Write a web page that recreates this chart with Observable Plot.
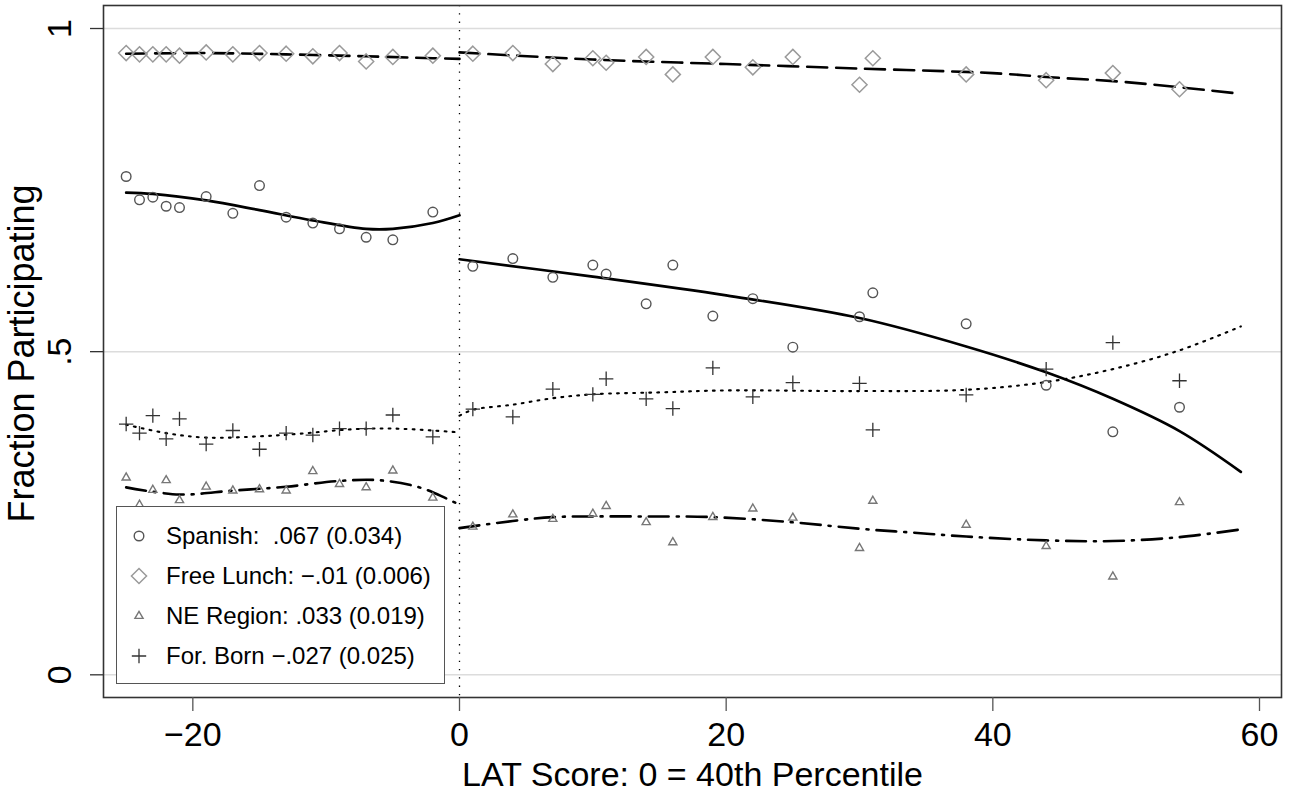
<!DOCTYPE html>
<html>
<head>
<meta charset="utf-8">
<script src="https://cdn.jsdelivr.net/npm/d3@7"></script>
<script src="https://cdn.jsdelivr.net/npm/@observablehq/plot@0.6"></script>
<style>
  html, body { margin: 0; padding: 0; background: #fff; }
  #wrap { position: relative; width: 1298px; height: 795px; font-family: "Liberation Sans", Arial, Helvetica, sans-serif; }
  #legend { position: absolute; left: 116px; top: 506px; width: 327px; height: 176px; background: #fff; border: 1.5px solid #555; box-sizing: content-box; }
  .row { position: absolute; left: 0; height: 30px; width: 100%; }
  .row svg { position: absolute; left: 12px; top: 5px; }
  .row span { position: absolute; left: 49px; top: 0; font-size: 24px; line-height: 30px; white-space: pre; color: #000; }
</style>
</head>
<body>
<div id="wrap"><div id="chart"></div><div id="legend"></div></div>
<script>
// ---- data ----
const lat = [-25,-24,-23,-22,-21,-19,-17,-15,-13,-11,-9,-7,-5,-2,
             1,4,7,10,11,14,16,19,22,25,30,31,38,44,49,54];
const spanish = [0.771,0.735,0.739,0.725,0.723,0.740,0.714,0.757,0.708,0.699,0.690,0.677,0.673,0.716,
                 0.632,0.644,0.615,0.634,0.620,0.574,0.634,0.555,0.582,0.507,0.554,0.591,0.543,0.448,0.376,0.414];
const freeLunch = [0.962,0.960,0.960,0.960,0.958,0.963,0.960,0.962,0.961,0.957,0.962,0.949,0.956,0.958,
                   0.961,0.962,0.945,0.954,0.947,0.956,0.929,0.956,0.940,0.956,0.913,0.954,0.929,0.920,0.931,0.906];
const neRegion = [0.305,0.263,0.286,0.301,0.270,0.291,0.285,0.287,0.285,0.315,0.295,0.290,0.316,0.274,
                  0.229,0.248,0.241,0.249,0.261,0.236,0.205,0.244,0.257,0.243,0.196,0.269,0.232,0.199,0.152,0.267];
const forBorn = [0.388,0.374,0.401,0.365,0.396,0.357,0.378,0.349,0.374,0.371,0.381,0.381,0.402,0.368,
                 0.411,0.399,0.442,0.434,0.458,0.427,0.412,0.475,0.430,0.452,0.451,0.379,0.433,0.473,0.514,0.455];

// fitted curves (left / right of cutoff)
const spanFitLx = [-25,-23,-19,-15,-11,-7,-5,-2,0];
const spanFitLy = [0.746,0.744,0.734,0.719,0.703,0.690,0.690,0.699,0.711];
const spanFitRx = [0,10,20,30,38,44,49,54,58.6];
const spanFitRy = [0.643,0.616,0.587,0.552,0.508,0.468,0.427,0.377,0.314];

const lunchFitLx = [-25,-19,-13,-7,-2,0];
const lunchFitLy = [0.961,0.962,0.960,0.957,0.954,0.953];
const lunchFitRx = [0,10,20,30,40,44,50,58.6];
const lunchFitRy = [0.963,0.952,0.945,0.938,0.931,0.925,0.917,0.899];

const neFitLx = [-25,-21,-17,-13,-9,-6,-3,-1,0];
const neFitLy = [0.290,0.279,0.285,0.291,0.300,0.301,0.290,0.273,0.263];
const neFitRx = [0,4,7,10,14,19,25,30,34,38,44,49,54,58.6];
const neFitRy = [0.227,0.238,0.244,0.245,0.245,0.244,0.236,0.226,0.220,0.214,0.208,0.207,0.213,0.225];

const bornFitLx = [-25,-22,-19,-15,-12,-8,-5,-2,0];
const bornFitLy = [0.387,0.374,0.367,0.369,0.373,0.380,0.381,0.378,0.375];
const bornFitRx = [0,1,4,7,10,15,20,30,38,44,49,54,58.6];
const bornFitRy = [0.401,0.410,0.418,0.428,0.434,0.437,0.440,0.439,0.441,0.453,0.473,0.502,0.539];

const xTicks = [-20,0,20,40,60];
const xTickLabels = ["\u221220","0","20","40","60"];
const yTicks = [0,0.5,1];
const yTickLabels = ["0",".5","1"];
const xTitle = "LAT Score: 0 = 40th Percentile";
const yTitle = "Fraction Participating";
const legendLabels = ["Spanish:  .067 (0.034)", "Free Lunch: \u2212.01 (0.006)", "NE Region: .033 (0.019)", "For. Born \u2212.027 (0.025)"];

// ---- build tables ----
const pts = (ys) => lat.map((x, i) => ({x, y: ys[i]}));
const fit = (xs, ys) => xs.map((x, i) => ({x, y: ys[i]}));

const styles = {
  spanish: {symbol: "circle", r: 4.8, stroke: "#555", strokeWidth: 1.4},
  lunch: {symbol: "diamond2", r: 6.8, stroke: "#9a9a9a", strokeWidth: 1.5},
  ne: {symbol: "triangle2", r: 3.9, stroke: "#777", strokeWidth: 1.4},
  born: {symbol: "plus", r: 4.7, stroke: "#333", strokeWidth: 1.3}
};
const lineStyles = {
  spanish: {stroke: "#000", strokeWidth: 2.7},
  lunch: {stroke: "#000", strokeWidth: 2.6, strokeDasharray: "20,9"},
  ne: {stroke: "#000", strokeWidth: 2.6, strokeDasharray: "20,8,2,8"},
  born: {stroke: "#000", strokeWidth: 2.1, strokeDasharray: "1.8,6.2"}
};
const curve = "catmull-rom";
const lineMark = (data, st) => Plot.line(data, {x: "x", y: "y", curve, fill: "none", ...st});
const dotMark = (data, st) => Plot.dot(data, {x: "x", y: "y", fill: "none", ...st});

const chart = Plot.plot({
  width: 1298, height: 795,
  marginLeft: 103, marginRight: 17, marginTop: 5, marginBottom: 98,
  x: {domain: [-26.7, 61.65]},
  y: {domain: [-0.0351, 1.0356]},
  style: {fontFamily: "'Liberation Sans', Arial, Helvetica, sans-serif", background: "#fff", color: "#000"},
  marks: [
    Plot.gridY(yTicks, {stroke: "#dcdcdc", strokeOpacity: 1, strokeWidth: 1.5}),
    Plot.ruleX([0], {stroke: "#000", strokeWidth: 1.3, strokeDasharray: "1.3,7"}),
    lineMark(fit(lunchFitLx, lunchFitLy), lineStyles.lunch),
    lineMark(fit(lunchFitRx, lunchFitRy), lineStyles.lunch),
    lineMark(fit(spanFitLx, spanFitLy), lineStyles.spanish),
    lineMark(fit(spanFitRx, spanFitRy), lineStyles.spanish),
    lineMark(fit(bornFitLx, bornFitLy), lineStyles.born),
    lineMark(fit(bornFitRx, bornFitRy), lineStyles.born),
    lineMark(fit(neFitLx, neFitLy), lineStyles.ne),
    lineMark(fit(neFitRx, neFitRy), lineStyles.ne),
    dotMark(pts(freeLunch), styles.lunch),
    dotMark(pts(spanish), styles.spanish),
    dotMark(pts(forBorn), styles.born),
    dotMark(pts(neRegion), styles.ne),
    Plot.frame({stroke: "#333", strokeWidth: 1.6}),
    Plot.axisX(xTicks, {tickSize: 14, tickPadding: 10, fontSize: 34, stroke: "#555", strokeWidth: 1.3,
      tickFormat: d => xTickLabels[xTicks.indexOf(d)], label: null}),
    Plot.axisY(yTicks, {tickSize: 13, tickPadding: 20, fontSize: 34, stroke: "#333", strokeWidth: 1.3,
      tickRotate: -90, tickFormat: d => yTickLabels[yTicks.indexOf(d)], label: null}),
    Plot.text([xTitle], {text: d => d, frameAnchor: "bottom", lineAnchor: "bottom", dy: 88, fontSize: 34}),
    Plot.text([yTitle], {text: d => d, frameAnchor: "left", textAnchor: "middle", lineAnchor: "middle",
      dx: -81, dy: 2, rotate: -90, fontSize: 36})
  ]
});
document.getElementById("chart").appendChild(chart);

// ---- legend ----
const legendKeys = ["spanish", "lunch", "ne", "born"];
const legend = d3.select("#legend");
const symMap = {circle: d3.symbolCircle, diamond2: d3.symbolDiamond2, triangle2: d3.symbolTriangle2, plus: d3.symbolPlus};
legendKeys.forEach((k, i) => {
  const st = styles[k];
  const row = legend.append("div").attr("class", "row").style("top", (14 + i * 40) + "px");
  const svg = row.append("svg").attr("width", 20).attr("height", 20);
  svg.append("path")
    .attr("transform", "translate(10,10)")
    .attr("d", d3.symbol(symMap[st.symbol], Math.PI * st.r * st.r)())
    .attr("fill", "none").attr("stroke", st.stroke).attr("stroke-width", st.strokeWidth);
  row.append("span").text(legendLabels[i]);
});
</script>
</body>
</html>
